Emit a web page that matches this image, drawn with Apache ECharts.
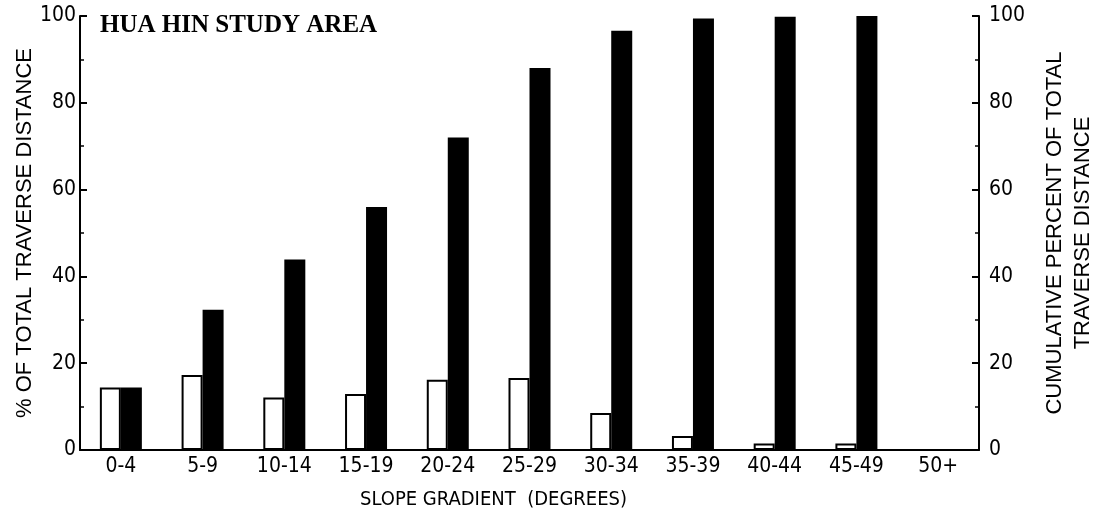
<!DOCTYPE html>
<html>
<head>
<meta charset="utf-8">
<script src="https://cdn.jsdelivr.net/npm/echarts@6/dist/echarts.min.js"></script>
<style>
html,body{margin:0;padding:0;background:#fff;}
#c{width:1106px;height:521px;}
</style>
</head>
<body>
<div id="c"></div>
<script>
const categories = ['0-4','5-9','10-14','15-19','20-24','25-29','30-34','35-39','40-44','45-49','50+'];
const percentOfTotal = [14.4, 17.3, 12.1, 12.9, 16.2, 16.6, 8.5, 3.2, 1.5, 1.5, 0];
const cumulativePercent = [14.4, 32.3, 43.9, 56.0, 72.0, 88.0, 96.6, 99.4, 99.8, 100, null];
const leftTicks = [0, 20, 40, 60, 80, 100];

const chart = echarts.init(document.getElementById('c'), null, {renderer: 'canvas'});
const FONT = '"Liberation Sans", "DejaVu Sans", sans-serif';
const NARROW = '"Liberation Sans Narrow", "DejaVu Sans Condensed", "Liberation Sans", sans-serif';
const axisCommon = {
  type: 'value', min: 0, max: 100, interval: 20,
  axisLine: {show: true, lineStyle: {color: '#000', width: 2}},
  axisTick: {show: true, inside: true, length: 7, lineStyle: {color: '#000', width: 2}},
  minorTick: {show: true, splitNumber: 2, length: 4, lineStyle: {color: '#000', width: 1.5}},
  splitLine: {show: false},
  axisLabel: {color: '#000', fontFamily: NARROW, fontSize: 21, margin: 4},
  nameLocation: 'middle',
  nameMoveOverlap: false,
  nameTextStyle: {color: '#000', fontFamily: FONT, fontSize: 22, lineHeight: 28}
};
chart.setOption({
  backgroundColor: '#fff',
  animation: false,
  grid: {left: 80, right: 127, top: 16, bottom: 71, containLabel: false, outerBoundsMode: 'none'},
  graphic: [
    {type: 'text', left: 100, top: 13,
     style: {text: 'HUA HIN STUDY AREA', fill: '#000', font: 'bold 25px "Liberation Serif", "DejaVu Serif", serif'}},
    {type: 'text', left: 360, top: 490,
     style: {text: 'SLOPE GRADIENT  (DEGREES)', fill: '#000', font: '20px ' + NARROW}}
  ],
  xAxis: {
    type: 'category', data: categories,
    axisLine: {show: true, lineStyle: {color: '#000', width: 2}},
    axisTick: {show: false},
    axisLabel: {color: '#000', fontFamily: NARROW, fontSize: 21, margin: 6, interval: 0}
  },
  yAxis: [
    Object.assign({}, axisCommon, {position: 'left', name: '% OF TOTAL TRAVERSE DISTANCE', nameGap: 41,
      axisLabel: Object.assign({}, axisCommon.axisLabel, {formatter: v => leftTicks.includes(v) ? String(v) : ''})}),
    Object.assign({}, axisCommon, {position: 'right', name: 'CUMULATIVE PERCENT OF TOTAL\nTRAVERSE DISTANCE', nameGap: 62,
      axisLabel: Object.assign({}, axisCommon.axisLabel, {margin: 10})})
  ],
  series: [
    {type: 'bar', name: 'percent', data: percentOfTotal, yAxisIndex: 0, barWidth: 21, barGap: '0%',
     itemStyle: {color: '#fff', borderColor: '#000', borderWidth: 2}},
    {type: 'bar', name: 'cumulative', data: cumulativePercent, yAxisIndex: 1, barWidth: 21, barGap: '0%',
     itemStyle: {color: '#000'}}
  ]
});
</script>
</body>
</html>
